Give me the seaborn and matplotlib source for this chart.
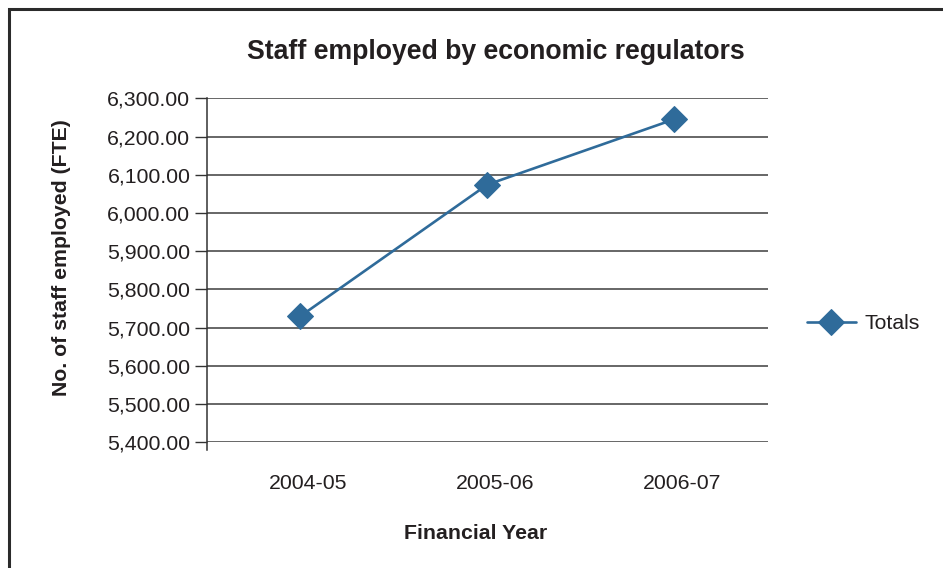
import matplotlib
matplotlib.use("Agg")
import matplotlib.pyplot as plt
import matplotlib.patches as mpatches
import matplotlib.ticker as mticker
import matplotlib.transforms as mtrans
import seaborn as sns
import pandas as pd

years = ["2004-05", "2005-06", "2006-07"]
totals = [5730, 6074, 6245]
yticks = [5400, 5500, 5600, 5700, 5800, 5900, 6000, 6100, 6200, 6300]

sns.set_theme(style="white")
plt.rcParams['font.family'] = ['Liberation Sans', 'DejaVu Sans']

W, H = 943, 568
fig = plt.figure(figsize=(W / 100, H / 100), dpi=100)
ax = fig.add_axes([207 / W, 1 - 442.3 / H, (767.5 - 207) / W, (442.3 - 98.3) / H])

df = pd.DataFrame({"Financial Year": years, "Totals": totals})
color = "#2F6B9A"
sns.lineplot(data=df, x="Financial Year", y="Totals", ax=ax, color=color,
             marker="D", markersize=13, markeredgecolor=color, linewidth=1.9,
             sort=False, label="Totals")

ax.set_xlim(-0.5, 2.5)
ax.set_ylim(5400, 6300)
ax.set_yticks(yticks)
ax.yaxis.set_major_formatter(mticker.FuncFormatter(lambda v, p: f"{v:,.2f}"))
ax.grid(axis="y", color="#4D4D4D", linewidth=1.2)
ax.grid(axis="x", visible=False)
ax.set_axisbelow(True)
for s in ["top", "right", "bottom"]:
    ax.spines[s].set_visible(False)
ax.spines["left"].set_color("#333333")
ax.spines["left"].set_linewidth(1.1)
ax.spines["left"].set_bounds(5380, 6300)
ax.tick_params(axis="y", which="both", left=True, length=9, width=1.0, color="#333333",
               labelsize=15.3, labelcolor="#231F20", pad=3)
ax.tick_params(axis="x", bottom=False, labelsize=15.3, labelcolor="#231F20", pad=17)
shift = mtrans.ScaledTranslation(8 / 100, 0, fig.dpi_scale_trans)
for lab in ax.get_xticklabels():
    lab.set_transform(lab.get_transform() + shift)

fig.text(496 / W, 1 - 52 / H, "Staff employed by economic regulators", fontsize=19.2,
         fontweight="bold", color="#231F20", ha="center", va="center")
ax.set_xlabel("Financial Year", fontsize=15.3, fontweight="bold", color="#231F20", labelpad=22)
ax.xaxis.label.set_x((476 - 207) / 560.5)
ax.set_ylabel("No. of staff employed (FTE)", fontsize=15.3, fontweight="bold", color="#231F20",
              labelpad=26)
ax.yaxis.label.set_y(1 - (257.5 - 98.3) / 344)

leg = ax.legend(loc="center left", bbox_to_anchor=(1.055, 0.345), frameon=False,
                fontsize=15.3, handlelength=2.3, handletextpad=0.4, borderaxespad=0)
for t in leg.get_texts():
    t.set_color("#231F20")

rect = mpatches.Rectangle((8.5 / W, -0.1), 1.2, 1 - 9.5 / H + 0.1, transform=fig.transFigure,
                          fill=False, edgecolor="#2B2B2B", linewidth=2.2, clip_on=False)
fig.patches.append(rect)

fig.savefig("out.png", dpi=100)
